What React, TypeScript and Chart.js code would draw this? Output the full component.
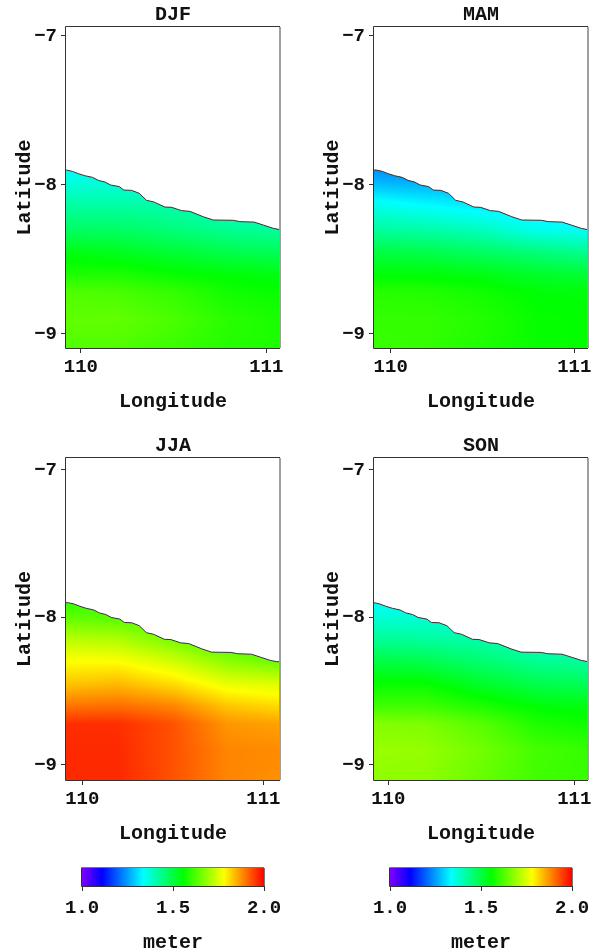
import React, { useEffect, useRef } from "react";
import { Chart, registerables } from "chart.js";

Chart.register(...registerables);

// grid axes of the shaded field
const gridLon = [109.9, 110.2, 110.5, 110.8, 111.1];
const gridLat = [-7.85, -8.0, -8.15, -8.3, -8.45, -8.6, -8.72, -8.9, -9.11];

// field values (metres), row per gridLat, column per gridLon
const djfValues = [
  [1.33, 1.33, 1.31, 1.3, 1.3],
  [1.37, 1.37, 1.36, 1.35, 1.34],
  [1.42, 1.42, 1.41, 1.39, 1.38],
  [1.47, 1.47, 1.45, 1.43, 1.42],
  [1.54, 1.53, 1.51, 1.49, 1.48],
  [1.58, 1.58, 1.56, 1.55, 1.54],
  [1.625, 1.62, 1.6, 1.57, 1.56],
  [1.64, 1.64, 1.62, 1.59, 1.575],
  [1.625, 1.625, 1.605, 1.585, 1.58],
];
const mamValues = [
  [1.22, 1.2, 1.2, 1.22, 1.24],
  [1.28, 1.27, 1.27, 1.27, 1.27],
  [1.36, 1.34, 1.32, 1.31, 1.3],
  [1.42, 1.41, 1.39, 1.35, 1.34],
  [1.5, 1.49, 1.47, 1.45, 1.43],
  [1.55, 1.55, 1.54, 1.52, 1.51],
  [1.59, 1.585, 1.57, 1.55, 1.545],
  [1.6, 1.6, 1.585, 1.56, 1.555],
  [1.605, 1.6, 1.58, 1.56, 1.555],
];
const jjaValues = [
  [1.58, 1.6, 1.6, 1.58, 1.55],
  [1.64, 1.63, 1.61, 1.58, 1.56],
  [1.72, 1.71, 1.66, 1.6, 1.58],
  [1.78, 1.78, 1.74, 1.68, 1.65],
  [1.83, 1.84, 1.81, 1.76, 1.75],
  [1.9, 1.905, 1.885, 1.83, 1.81],
  [1.96, 1.96, 1.93, 1.87, 1.86],
  [1.965, 1.965, 1.93, 1.885, 1.88],
  [1.965, 1.965, 1.93, 1.885, 1.875],
];
const sonValues = [
  [1.33, 1.32, 1.31, 1.31, 1.31],
  [1.37, 1.37, 1.36, 1.35, 1.34],
  [1.43, 1.42, 1.41, 1.39, 1.38],
  [1.5, 1.49, 1.46, 1.43, 1.42],
  [1.56, 1.56, 1.52, 1.49, 1.48],
  [1.61, 1.61, 1.58, 1.55, 1.54],
  [1.67, 1.665, 1.63, 1.58, 1.565],
  [1.69, 1.685, 1.655, 1.615, 1.6],
  [1.68, 1.68, 1.645, 1.61, 1.6],
];

// coastline
const coastLon = [
  109.85, 109.923, 109.955, 109.986, 110.022, 110.063, 110.094, 110.13, 110.16, 110.207, 110.232, 110.273, 110.315,
  110.354, 110.394, 110.453, 110.489, 110.543, 110.588, 110.66, 110.714, 110.822, 110.858, 110.934, 110.984, 111.038,
  111.074, 111.15,
];
const coastLat = [
  -7.9, -7.9, -7.909, -7.924, -7.938, -7.949, -7.969, -7.98, -8.0, -8.011, -8.034, -8.036, -8.056, -8.103, -8.114,
  -8.148, -8.15, -8.172, -8.177, -8.213, -8.235, -8.237, -8.246, -8.249, -8.269, -8.291, -8.3, -8.3,
];

const lonTicks = [110, 111];
const latTicks = [-7, -8, -9];
const barTicks = [1.0, 1.5, 2.0];

// colour scale
const scaleStops = [1.0, 1.11, 1.335, 1.555, 1.78, 2.0];
const scaleColors = [
  [127, 0, 255],
  [0, 0, 255],
  [0, 255, 255],
  [0, 255, 0],
  [255, 255, 0],
  [255, 0, 0],
];

const FONT_FAMILY = '"Liberation Mono", monospace';
const TEXT = "#111111";
const LINE = "#333333";

function colorOf(v: number): string {
  const n = scaleStops.length;
  if (v <= scaleStops[0]) return `rgb(${scaleColors[0].join(",")})`;
  for (let i = 1; i < n; i++) {
    if (v <= scaleStops[i]) {
      const t = (v - scaleStops[i - 1]) / (scaleStops[i] - scaleStops[i - 1]);
      const a = scaleColors[i - 1];
      const b = scaleColors[i];
      return `rgb(${Math.round(a[0] + (b[0] - a[0]) * t)},${Math.round(a[1] + (b[1] - a[1]) * t)},${Math.round(
        a[2] + (b[2] - a[2]) * t
      )})`;
    }
  }
  return `rgb(${scaleColors[n - 1].join(",")})`;
}

const fieldPlugin = {
  id: "field",
  beforeDatasetsDraw(chart: any, _a: any, opts: any) {
    const { ctx, chartArea, scales } = chart;
    const xs = scales.x;
    const ys = scales.y;
    const field: number[][] = opts.values;
    ctx.save();
    ctx.beginPath();
    ctx.rect(chartArea.left, chartArea.top, chartArea.width, chartArea.height);
    ctx.clip();
    ctx.beginPath();
    coastLon.forEach((lon, i) => {
      const px = xs.getPixelForValue(lon);
      const py = ys.getPixelForValue(coastLat[i]);
      if (i === 0) ctx.moveTo(px, py);
      else ctx.lineTo(px, py);
    });
    ctx.lineTo(xs.getPixelForValue(coastLon[coastLon.length - 1]), chartArea.bottom + 2);
    ctx.lineTo(xs.getPixelForValue(coastLon[0]), chartArea.bottom + 2);
    ctx.closePath();
    ctx.clip();
    for (let i = 0; i < gridLat.length - 1; i++) {
      for (let j = 0; j < gridLon.length - 1; j++) {
        const x0 = xs.getPixelForValue(gridLon[j]);
        const x1 = xs.getPixelForValue(gridLon[j + 1]);
        const y0 = ys.getPixelForValue(gridLat[i]);
        const y1 = ys.getPixelForValue(gridLat[i + 1]);
        for (let py = Math.floor(y0); py < Math.ceil(y1); py++) {
          const v = Math.min(1, Math.max(0, (py + 0.5 - y0) / (y1 - y0)));
          for (let px = Math.floor(x0); px < Math.ceil(x1); px++) {
            const u = Math.min(1, Math.max(0, (px + 0.5 - x0) / (x1 - x0)));
            const top = field[i][j] * (1 - u) + field[i][j + 1] * u;
            const bot = field[i + 1][j] * (1 - u) + field[i + 1][j + 1] * u;
            ctx.fillStyle = colorOf(top * (1 - v) + bot * v);
            ctx.fillRect(px, py, 1, 1);
          }
        }
      }
    }
    ctx.restore();
  },
};

const framePlugin = {
  id: "frame",
  afterDraw(chart: any) {
    const { ctx, chartArea: a } = chart;
    ctx.save();
    ctx.lineWidth = 1;
    ctx.fillStyle = "#a0a0a0";
    ctx.fillRect(Math.round(a.right) - 1, a.top, 2, a.height);
    ctx.strokeStyle = LINE;
    ctx.beginPath();
    ctx.moveTo(a.left - 0.5, a.top - 0.5);
    ctx.lineTo(Math.round(a.right), a.top - 0.5);
    ctx.moveTo(a.left - 0.5, a.top - 0.5);
    ctx.lineTo(a.left - 0.5, a.bottom + 0.5);
    ctx.lineTo(Math.round(a.right), a.bottom + 0.5);
    ctx.stroke();
    ctx.restore();
  },
};

const barPlugin = {
  id: "bar",
  beforeDatasetsDraw(chart: any) {
    const { ctx, chartArea: a, scales } = chart;
    const xs = scales.x;
    const g = ctx.createLinearGradient(xs.getPixelForValue(1), 0, xs.getPixelForValue(2), 0);
    scaleStops.forEach((s, i) => g.addColorStop((s - 1) / 1, `rgb(${scaleColors[i].join(",")})`));
    ctx.save();
    ctx.fillStyle = g;
    ctx.fillRect(a.left, a.top, a.width, a.height);
    ctx.strokeStyle = "#777777";
    ctx.lineWidth = 1;
    ctx.beginPath();
    ctx.moveTo(a.left, a.top - 0.5);
    ctx.lineTo(a.right, a.top - 0.5);
    ctx.moveTo(a.right + 0.5, a.top);
    ctx.lineTo(a.right + 0.5, a.bottom);
    ctx.stroke();
    ctx.strokeStyle = LINE;
    ctx.beginPath();
    ctx.moveTo(a.left - 0.5, a.top - 0.5);
    ctx.lineTo(a.left - 0.5, a.bottom + 0.5);
    ctx.lineTo(a.right + 0.5, a.bottom + 0.5);
    ctx.stroke();
    ctx.restore();
  },
};

const font = (size: number) => ({ family: FONT_FAMILY, size, weight: "bold" as const, lineHeight: 1.2 });

type PanelCfg = {
  name: string;
  values: number[][];
  left: number;
  top: number;
  width: number;
  height: number;
  padRight: number;
  lonRange: [number, number];
  latRange: [number, number];
};

const panels: PanelCfg[] = [
  { name: "DJF", values: djfValues, left: 0, top: 0, width: 298, height: 415, padRight: 18, lonRange: [109.92, 111.074], latRange: [-9.094, -6.94] },
  { name: "MAM", values: mamValues, left: 308, top: 0, width: 289, height: 415, padRight: 9, lonRange: [109.909, 111.075], latRange: [-9.094, -6.94] },
  { name: "JJA", values: jjaValues, left: 0, top: 431, width: 298, height: 416, padRight: 18, lonRange: [109.91, 111.092], latRange: [-9.102, -6.919] },
  { name: "SON", values: sonValues, left: 308, top: 431, width: 289, height: 416, padRight: 9, lonRange: [109.923, 111.074], latRange: [-9.102, -6.919] },
];

function Panel({ cfg }: { cfg: PanelCfg }) {
  const ref = useRef<HTMLCanvasElement>(null);
  useEffect(() => {
    const chart = new Chart(ref.current!, {
      type: "scatter",
      data: {
        datasets: [
          {
            data: coastLon.map((x, i) => ({ x, y: coastLat[i] })),
            showLine: true,
            borderColor: LINE,
            borderWidth: 1,
            pointRadius: 0,
            tension: 0,
          },
        ],
      },
      options: {
        animation: false,
        responsive: false,
        devicePixelRatio: 1,
        layout: { padding: { left: 0, right: cfg.padRight, top: 0, bottom: 0 } },
        plugins: {
          legend: { display: false },
          tooltip: { enabled: false },
          title: { display: true, fullSize: false, text: cfg.name, color: TEXT, font: font(20), padding: { top: 3, bottom: 0 } },
          field: { values: cfg.values },
        } as any,
        scales: {
          x: {
            type: "linear",
            min: cfg.lonRange[0],
            max: cfg.lonRange[1],
            afterBuildTicks: (s: any) => {
              s.ticks = lonTicks.map((value) => ({ value }));
            },
            afterFit: (s: any) => {
              s.height = 67;
            },
            border: { display: false },
            grid: { drawOnChartArea: false, drawTicks: true, tickLength: 5, tickColor: LINE },
            ticks: { color: TEXT, font: font(19), padding: 3, maxRotation: 0, autoSkip: false, callback: (v: any) => String(v) },
            title: { display: true, text: "Longitude", color: TEXT, font: font(20), padding: { top: 0, bottom: 1.5 } },
          },
          y: {
            type: "linear",
            min: cfg.latRange[0],
            max: cfg.latRange[1],
            afterBuildTicks: (s: any) => {
              s.ticks = latTicks.map((value) => ({ value }));
            },
            afterFit: (s: any) => {
              s.width = 66;
            },
            border: { display: false },
            grid: { drawOnChartArea: false, drawTicks: true, tickLength: 5, tickColor: LINE },
            ticks: {
              color: TEXT,
              font: font(19),
              padding: 4,
              autoSkip: false,
              callback: (v: any) => "\u2212" + Math.abs(Number(v)),
            },
            title: { display: true, text: "Latitude", color: TEXT, font: font(20), padding: { top: 12.5, bottom: 0 } },
          },
        },
      } as any,
      plugins: [fieldPlugin, framePlugin] as any,
    });
    return () => chart.destroy();
  }, [cfg]);
  return (
    <canvas
      ref={ref}
      width={cfg.width}
      height={cfg.height}
      style={{ position: "absolute", left: cfg.left, top: cfg.top, width: cfg.width, height: cfg.height }}
    />
  );
}

function ColorBar({ left, barLeft, barRight }: { left: number; barLeft: number; barRight: number }) {
  const ref = useRef<HTMLCanvasElement>(null);
  useEffect(() => {
    const chart = new Chart(ref.current!, {
      type: "scatter",
      data: { datasets: [{ data: [], pointRadius: 0 }] },
      options: {
        animation: false,
        responsive: false,
        devicePixelRatio: 1,
        layout: { padding: { left: barLeft - left, right: 298 - (barRight - left), top: 8, bottom: 0 } },
        plugins: { legend: { display: false }, tooltip: { enabled: false } },
        scales: {
          x: {
            type: "linear",
            min: 1,
            max: 2,
            afterBuildTicks: (s: any) => {
              s.ticks = barTicks.map((value) => ({ value }));
            },
            afterFit: (s: any) => {
              s.height = 74;
            },
            border: { display: false },
            grid: { drawOnChartArea: false, drawTicks: true, tickLength: 5, tickColor: LINE },
            ticks: { color: TEXT, font: font(19), padding: 6, maxRotation: 0, autoSkip: false, callback: (v: any) => Number(v).toFixed(1) },
            title: { display: true, text: "meter", color: TEXT, font: font(20), padding: { top: 0, bottom: 5 } },
          },
          y: { display: false, min: 0, max: 1 },
        },
      } as any,
      plugins: [barPlugin] as any,
    });
    return () => chart.destroy();
  }, [left, barLeft, barRight]);
  return <canvas ref={ref} width={298} height={100} style={{ position: "absolute", left, top: 860, width: 298, height: 100 }} />;
}

export default function App() {
  return (
    <div style={{ position: "absolute", left: 0, top: 0, width: 597, height: 951, overflow: "hidden", background: "#ffffff" }}>
      {panels.map((p) => (
        <Panel key={p.name} cfg={p} />
      ))}
      <ColorBar left={0} barLeft={82} barRight={264} />
      <ColorBar left={299} barLeft={390} barRight={572} />
    </div>
  );
}
